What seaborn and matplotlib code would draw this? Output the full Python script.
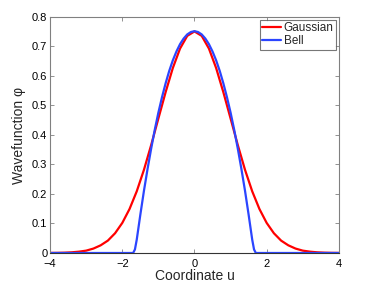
import numpy as np
import pandas as pd
import matplotlib
matplotlib.use('Agg')
import matplotlib.pyplot as plt
import seaborn as sns

# values
u_gauss = [-4.0, -3.8, -3.6, -3.4, -3.2, -3.0, -2.8, -2.6, -2.4, -2.2, -2.0,
           -1.8, -1.6, -1.4, -1.2, -1.0, -0.8, -0.6, -0.4, -0.2, 0.0,
           0.2, 0.4, 0.6, 0.8, 1.0, 1.2, 1.4, 1.6, 1.8, 2.0,
           2.2, 2.4, 2.6, 2.8, 3.0, 3.2, 3.4, 3.6, 3.8, 4.0]
phi_gauss = [0.0003, 0.0005, 0.0011, 0.0023, 0.0045, 0.008, 0.015, 0.026, 0.042, 0.067, 0.102,
             0.149, 0.209, 0.282, 0.366, 0.456, 0.545, 0.627, 0.693, 0.736, 0.751,
             0.736, 0.693, 0.627, 0.545, 0.456, 0.366, 0.282, 0.209, 0.149, 0.102,
             0.067, 0.042, 0.026, 0.015, 0.008, 0.0045, 0.0023, 0.0011, 0.0005, 0.0003]

u_bell = [-4.0, -1.7, -1.65, -1.6, -1.5, -1.4, -1.3, -1.2, -1.1, -1.0, -0.9, -0.8, -0.7,
          -0.6, -0.5, -0.4, -0.3, -0.2, -0.1, 0.0, 0.1, 0.2, 0.3, 0.4, 0.5, 0.6,
          0.7, 0.8, 0.9, 1.0, 1.1, 1.2, 1.3, 1.4, 1.5, 1.6, 1.65, 1.7, 4.0]
phi_bell = [0.0, 0.0, 0.012, 0.045, 0.130, 0.211, 0.285, 0.354, 0.418, 0.476, 0.528, 0.575, 0.617,
            0.653, 0.683, 0.708, 0.727, 0.741, 0.749, 0.752, 0.749, 0.741, 0.727, 0.708, 0.683, 0.653,
            0.617, 0.575, 0.528, 0.476, 0.418, 0.354, 0.285, 0.211, 0.130, 0.045, 0.012, 0.0, 0.0]

names = ['Gaussian', 'Bell']
colors = ['#ff0000', '#2b45ff']

df = pd.concat([
    pd.DataFrame({'u': u_gauss, 'phi': phi_gauss, 'curve': names[0]}),
    pd.DataFrame({'u': u_bell, 'phi': phi_bell, 'curve': names[1]}),
], ignore_index=True)

sns.set_style('white')
plt.rcParams['font.family'] = ['Liberation Sans', 'DejaVu Sans']

fig = plt.figure(figsize=(3.74, 2.89), dpi=100)
ax = fig.add_axes([0.134, 0.1246, 0.772, 0.8166])

sns.lineplot(data=df, x='u', y='phi', hue='curve', palette=dict(zip(names, colors)),
             linewidth=1.6, sort=False, estimator=None, ax=ax)

ax.set_xlim(-4, 4)
ax.set_ylim(0, 0.8)
ax.set_xticks([-4, -2, 0, 2, 4])
ax.set_xticklabels(['\u22124', '\u22122', '0', '2', '4'])
ax.set_yticks(np.arange(0, 0.81, 0.1))
ax.set_yticklabels(['0', '0.1', '0.2', '0.3', '0.4', '0.5', '0.6', '0.7', '0.8'])
ax.tick_params(direction='in', length=3, width=0.6, colors='#808080', labelcolor='black',
               labelsize=8, top=True, right=True, bottom=True, left=True, pad=2)
ax.tick_params(axis='x', pad=4)
for s in ax.spines.values():
    s.set_color('#808080')
    s.set_linewidth(0.8)
ax.spines['bottom'].set_color('#333333')

ax.set_xlabel('Coordinate u', fontsize=10, labelpad=0)
ax.set_ylabel('Wavefunction \u03c6', fontsize=10, labelpad=4)

handles, labels = ax.get_legend_handles_labels()
leg = ax.legend(handles, labels, loc='upper right', fontsize=8.5, frameon=True, fancybox=False,
                handlelength=1.6, handletextpad=0.2, borderpad=0.2, labelspacing=0.1,
                borderaxespad=0.25)
leg.get_frame().set_edgecolor('#555555')
leg.get_frame().set_linewidth(0.8)

fig.savefig('out.png', dpi=100)
